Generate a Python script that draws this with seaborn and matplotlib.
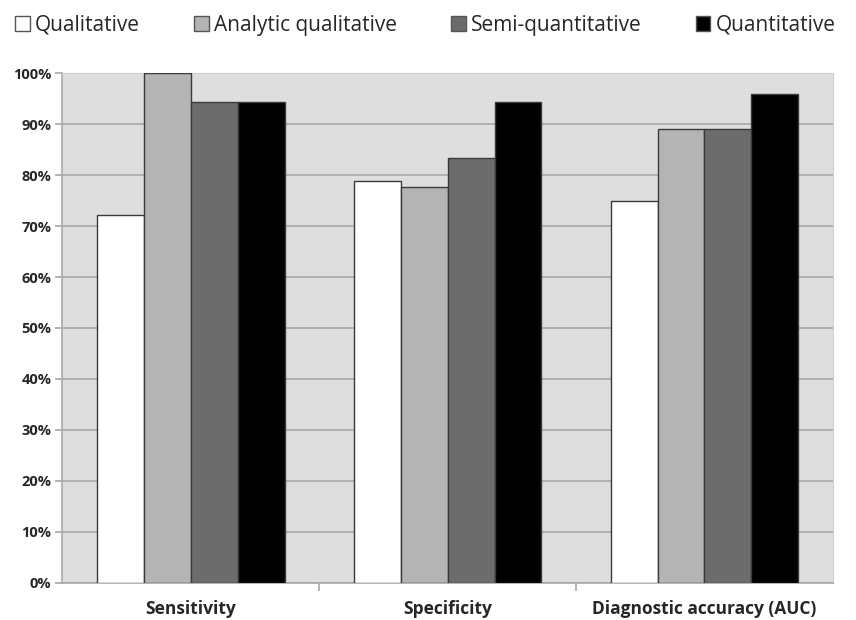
import pandas as pd
import matplotlib.pyplot as plt
import matplotlib.patches as mpatches
import seaborn as sns

# Values (percent)
categories = ['Sensitivity', 'Specificity', 'Diagnostic accuracy (AUC)']
methods = ['Qualitative', 'Analytic qualitative', 'Semi-quantitative', 'Quantitative']
qualitative = [72.2, 78.8, 75.0]
analytic_qualitative = [100.0, 77.7, 89.0]
semi_quantitative = [94.4, 83.3, 89.0]
quantitative = [94.4, 94.3, 96.0]
colors = ['#ffffff', '#b4b4b4', '#6c6c6c', '#000000']

# Long table for seaborn
rows = []
for method, vals in zip(methods, [qualitative, analytic_qualitative, semi_quantitative, quantitative]):
    for cat, v in zip(categories, vals):
        rows.append({'Measure': cat, 'Method': method, 'Value': v})
df = pd.DataFrame(rows)

sns.set_style('white')
plt.rcParams['font.family'] = ['Open Sans', 'DejaVu Sans']

fig, ax = plt.subplots(figsize=(8.56, 6.2), dpi=100)
fig.subplots_adjust(left=0.073, right=0.973, top=0.882, bottom=0.06)

sns.barplot(data=df, x='Measure', y='Value', hue='Method', order=categories,
            hue_order=methods, palette=colors, width=0.73, edgecolor='#3a3a3a',
            linewidth=1.0, saturation=1, legend=False, ax=ax, zorder=3)

ax.set_facecolor('#dedede')
ax.set_ylim(0, 100)
ax.set_xlim(-0.5, 2.5)
ax.set_yticks(range(0, 101, 10))
ax.set_yticklabels([f'{t}%' for t in range(0, 101, 10)], fontsize=10.5, fontweight='bold')
ax.yaxis.grid(True, color='#a8a8a8', linewidth=1.2, zorder=0)
ax.set_axisbelow(True)
ax.tick_params(axis='y', length=5, color='#a8a8a8', width=1.2, pad=3, left=True)

# category labels between group boundary ticks
ax.set_xticks([0.5, 1.5])
ax.set_xticklabels([])
ax.tick_params(axis='x', length=6, color='#a8a8a8', width=1.2, bottom=True)
for i, cat in enumerate(categories):
    ax.text(i, -3.3, cat, ha='center', va='top', fontsize=12.5, fontweight='bold')
ax.set_xlabel('')
ax.set_ylabel('')

for side in ['top', 'right']:
    ax.spines[side].set_color('#d0d0d0')
for side in ['left', 'bottom']:
    ax.spines[side].set_color('#a8a8a8')
    ax.spines[side].set_linewidth(1.2)

handles = [mpatches.Patch(facecolor=c, edgecolor='#555555', label=m) for c, m in zip(colors, methods)]
fig.legend(handles=handles, loc='upper center', bbox_to_anchor=(0.497, 1.0), ncol=4,
           frameon=False, fontsize=15, handlelength=0.7, handleheight=0.7,
           handletextpad=0.25, columnspacing=2.6, borderaxespad=0.3)

plt.savefig('out.png', dpi=100)
